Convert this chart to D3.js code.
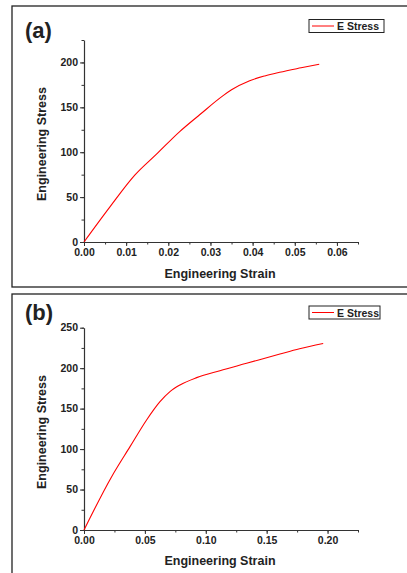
<!DOCTYPE html>
<html>
<head>
<meta charset='utf-8'>
<title>Engineering stress-strain</title>
<script src='https://d3js.org/d3.v7.min.js'></script>
<style>
  body { margin: 0; background: #fff; }
  text { font-family: 'Liberation Sans', Arial, sans-serif; font-weight: bold; fill: #222; }
</style>
</head>
<body>
<script>
// panel (a) values
const strainA = [0, 0.0062, 0.0121, 0.0172, 0.0227, 0.0275, 0.033, 0.035, 0.0393, 0.0429, 0.0464, 0.0515, 0.0558];
const stressA = [0, 39.4, 74.7, 97.8, 123, 142, 163, 169.5, 179.6, 185, 189, 194, 198];

// panel (b) values
const strainB = [0, 0.0227, 0.0378, 0.0514, 0.0624, 0.0706, 0.0788, 0.0925, 0.1116, 0.1335, 0.1609, 0.177, 0.1964];
const stressB = [0, 65.9, 103, 136, 158.6, 171, 179.2, 188.3, 196.9, 206, 217.5, 224, 230.6];

const xTicksA = [0, 0.01, 0.02, 0.03, 0.04, 0.05, 0.06];
const yTicksA = [0, 50, 100, 150, 200];
const xTicksB = [0, 0.05, 0.10, 0.15, 0.20];
const yTicksB = [0, 50, 100, 150, 200, 250];

const svg = d3.select('body').append('svg')
    .attr('width', 407)
    .attr('height', 573);

svg.append('rect').attr('width', 407).attr('height', 573).attr('fill', '#fff');

function panel(cfg) {
    const g = svg.append('g');

    // frame around the panel
    g.append('rect')
        .attr('x', 12).attr('y', cfg.top)
        .attr('width', 420).attr('height', cfg.height)
        .attr('fill', 'none').attr('stroke', '#222').attr('stroke-width', 1.3);

    const x = d3.scaleLinear().domain(cfg.xDomain).range([84, 358]);
    const y = d3.scaleLinear().domain(cfg.yDomain).range([cfg.y0, cfg.y1]);

    // minor ticks
    const minorX = d3.range(cfg.xDomain[0], cfg.xDomain[1] + 1e-9, cfg.xMinor);
    const minorY = d3.range(cfg.yDomain[0], cfg.yDomain[1] + 1e-9, cfg.yMinor);

    g.append('g')
        .attr('transform', 'translate(0,' + cfg.y0 + ')')
        .call(d3.axisBottom(x).tickValues(minorX).tickSize(2.5).tickFormat(''))
        .call(a => a.select('.domain').remove())
        .selectAll('line').attr('stroke', '#333');

    g.append('g')
        .attr('transform', 'translate(84,0)')
        .call(d3.axisLeft(y).tickValues(minorY).tickSize(2.5).tickFormat(''))
        .call(a => a.select('.domain').remove())
        .selectAll('line').attr('stroke', '#333');

    const xAxis = g.append('g')
        .attr('transform', 'translate(0,' + cfg.y0 + ')')
        .call(d3.axisBottom(x).tickValues(cfg.xTicks).tickSize(4).tickSizeOuter(0).tickPadding(3)
            .tickFormat(cfg.xFormat));
    xAxis.selectAll('text').attr('font-size', 10.5).attr('fill', '#222');

    const yAxis = g.append('g')
        .attr('transform', 'translate(84,0)')
        .call(d3.axisLeft(y).tickValues(cfg.yTicks).tickSize(4).tickSizeOuter(0).tickPadding(2)
            .tickFormat(d3.format('d')));
    yAxis.selectAll('text').attr('font-size', 10.5).attr('fill', '#222').attr('dy', '0.3em');

    g.selectAll('.domain').attr('stroke', '#333').attr('stroke-width', 1.2);
    g.selectAll('.tick line').attr('stroke', '#333');

    // the curve
    const pts = cfg.xs.map((v, i) => [v, cfg.ys[i]]);
    g.append('path')
        .datum(pts)
        .attr('fill', 'none')
        .attr('stroke', '#ff0000')
        .attr('stroke-width', 1.1)
        .attr('d', d3.line().x(d => x(d[0])).y(d => y(d[1])).curve(d3.curveMonotoneX));

    // titles
    g.append('text')
        .attr('x', 220).attr('y', cfg.xTitleY)
        .attr('text-anchor', 'middle').attr('font-size', 12.5)
        .text('Engineering Strain');

    g.append('text')
        .attr('transform', 'translate(46,' + cfg.yTitleC + ') rotate(-90)')
        .attr('text-anchor', 'middle').attr('font-size', 12.5)
        .text('Engineering Stress');

    g.append('text')
        .attr('x', 25).attr('y', cfg.labelY)
        .attr('font-size', 22)
        .text(cfg.label);

    // legend
    const lg = g.append('g').attr('transform', 'translate(309,' + cfg.legY + ')');
    lg.append('rect')
        .attr('width', cfg.legW).attr('height', 13)
        .attr('fill', '#fff').attr('stroke', '#222').attr('stroke-width', 1);
    lg.append('line')
        .attr('x1', 3).attr('x2', 25).attr('y1', 6.5).attr('y2', 6.5)
        .attr('stroke', '#ff0000').attr('stroke-width', 1);
    lg.append('text')
        .attr('x', 28).attr('y', 10.5).attr('font-size', 10.5)
        .text('E Stress');
}

panel({
    top: 6, height: 281, label: '(a)', labelY: 38,
    xDomain: [0, 0.065], yDomain: [0, 225], y0: 242, y1: 40,
    xMinor: 0.005, yMinor: 25,
    xTicks: xTicksA, yTicks: yTicksA, xFormat: d3.format('.2f'),
    xs: strainA, ys: stressA,
    xTitleY: 278, yTitleC: 144, legY: 19.5, legW: 75
});

panel({
    top: 294, height: 300, label: '(b)', labelY: 320,
    xDomain: [0, 0.225], yDomain: [0, 250], y0: 530, y1: 327.7,
    xMinor: 0.025, yMinor: 25,
    xTicks: xTicksB, yTicks: yTicksB, xFormat: d3.format('.2f'),
    xs: strainB, ys: stressB,
    xTitleY: 565, yTitleC: 432, legY: 306, legW: 71
});
</script>
</body>
</html>
